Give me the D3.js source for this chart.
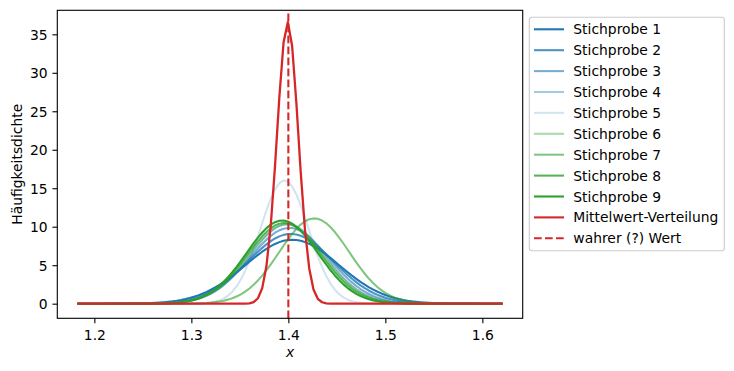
<!DOCTYPE html>
<html><head><meta charset="utf-8">
<script src="https://cdn.jsdelivr.net/npm/d3@7/dist/d3.min.js"></script>
<style>body{margin:0;background:#fff}text{font-family:"DejaVu Sans",sans-serif;font-size:13.89px;fill:#000}</style>
</head><body><svg id="c" width="734" height="371"></svg>
<script>
// Series: each curve is a normal density with these parameters
const seriesNames = ["Stichprobe 1","Stichprobe 2","Stichprobe 3","Stichprobe 4","Stichprobe 5",
  "Stichprobe 6","Stichprobe 7","Stichprobe 8","Stichprobe 9"];
const sampleMeans = [1.4040, 1.4025, 1.4010, 1.3990, 1.3960, 1.3980, 1.4267, 1.3960, 1.3937];
const sampleStds  = [0.0480, 0.0440, 0.0405, 0.0386, 0.0249, 0.0387, 0.0360, 0.0380, 0.0369];
const sampleColors = ["#1f77b4","#1f77b4","#1f77b4","#1f77b4","#1f77b4","#2ca02c","#2ca02c","#2ca02c","#2ca02c"];
const sampleAlpha = [1.0, 0.8, 0.6, 0.4, 0.2, 0.4, 0.6, 0.8, 1.0];
const meanName = "Mittelwert-Verteilung";
const meanMean = 1.3993;
const meanStd = 0.0109;
const trueName = "wahrer (?) Wert";
const trueValue = 1.4;
const xRange = [1.1836, 1.6198];
const nPoints = 100;
const xTicks = [1.2, 1.3, 1.4, 1.5, 1.6];
const yTicks = [0, 5, 10, 15, 20, 25, 30, 35];

const svg = d3.select("#c");
const L = 57.3, T = 10.3, R = 522.7, B = 318.3;
const x = d3.scaleLinear().domain([1.16179, 1.64161]).range([L, R]);
const y = d3.scaleLinear().domain([-1.9, 38.12]).range([B, T]);

const xs = d3.range(nPoints).map(i => xRange[0] + (xRange[1]-xRange[0]) * i / (nPoints-1));
const pdf = (v, m, s) => Math.exp(-0.5*((v-m)/s)**2) / (s*Math.sqrt(2*Math.PI));
const line = d3.line().x(d => x(d[0])).y(d => y(d[1]));

const g = svg.append("g");
svg.append("defs").append("clipPath").attr("id","clip").append("rect")
  .attr("x",L).attr("y",T).attr("width",R-L).attr("height",B-T);
const plot = g.append("g").attr("clip-path","url(#clip)");
const LW = 2.08;

sampleMeans.forEach((m,i) => {
  plot.append("path").datum(xs.map(v => [v, pdf(v, m, sampleStds[i])]))
    .attr("d", line).attr("fill","none").attr("stroke", sampleColors[i])
    .attr("stroke-opacity", sampleAlpha[i]).attr("stroke-width", LW)
    .attr("stroke-linejoin","round").attr("stroke-linecap","square");
});
plot.append("path").datum(xs.map(v => [v, pdf(v, meanMean, meanStd)]))
  .attr("d", line).attr("fill","none").attr("stroke","#d62728").attr("stroke-width",2.3)
  .attr("stroke-linejoin","round").attr("stroke-linecap","square");
plot.append("line").attr("x1",x(trueValue)).attr("x2",x(trueValue)).attr("y1",B).attr("y2",T)
  .attr("stroke","#d62728").attr("stroke-width",LW).attr("stroke-dasharray","7.7,3.3");

// axes
const xa = g.append("g").attr("transform",`translate(0,${B})`)
  .call(d3.axisBottom(x).tickValues(xTicks).tickFormat(d3.format(".1f")).tickSizeOuter(0).tickSize(4.86).tickPadding(4.86));
const ya = g.append("g").attr("transform",`translate(${L},0)`)
  .call(d3.axisLeft(y).tickValues(yTicks).tickFormat(d3.format("d")).tickSizeOuter(0).tickSize(4.86).tickPadding(4.86));
[xa,ya].forEach(a => { a.select(".domain").remove(); a.selectAll(".tick line").attr("stroke","#000").attr("stroke-width",1.1);
  a.selectAll("text").attr("font-family",null).attr("font-size",null).attr("fill","#000"); });
xa.selectAll(".tick text").attr("dy",null).attr("y",21.7);
ya.selectAll(".tick text").attr("dy","0.36em");
g.append("rect").attr("x",L).attr("y",T).attr("width",R-L).attr("height",B-T)
  .attr("fill","none").attr("stroke","#000").attr("stroke-width",1.1);

g.append("text").attr("x",(L+R)/2).attr("y",357).attr("text-anchor","middle")
  .attr("font-style","italic").text("x");
g.append("text").attr("transform",`translate(21.5,${(T+B)/2}) rotate(-90)`).attr("text-anchor","middle")
  .text("Häufigkeitsdichte");

// legend
const lg = g.append("g");
lg.append("rect").attr("x",529.3).attr("y",17.3).attr("width",195).attr("height",233.4).attr("rx",2.5)
  .attr("fill","#fff").attr("fill-opacity",0.8).attr("stroke","#cccccc").attr("stroke-width",1.1);
const items = seriesNames.map((n,i) => ({n, c: sampleColors[i], a: sampleAlpha[i], dash: null}))
  .concat([{n: meanName, c:"#d62728", a:1, dash:null},{n: trueName, c:"#d62728", a:1, dash:"7.7,3.3"}]);
items.forEach((it,i) => {
  const cy = 29.3 + i*20.9;
  lg.append("line").attr("x1",534).attr("x2",564).attr("y1",cy).attr("y2",cy)
    .attr("stroke",it.c).attr("stroke-opacity",it.a).attr("stroke-width",LW).attr("stroke-dasharray",it.dash);
  lg.append("text").attr("x",573.3).attr("y",cy).attr("dy","0.36em").text(it.n);
});
</script></body></html>
